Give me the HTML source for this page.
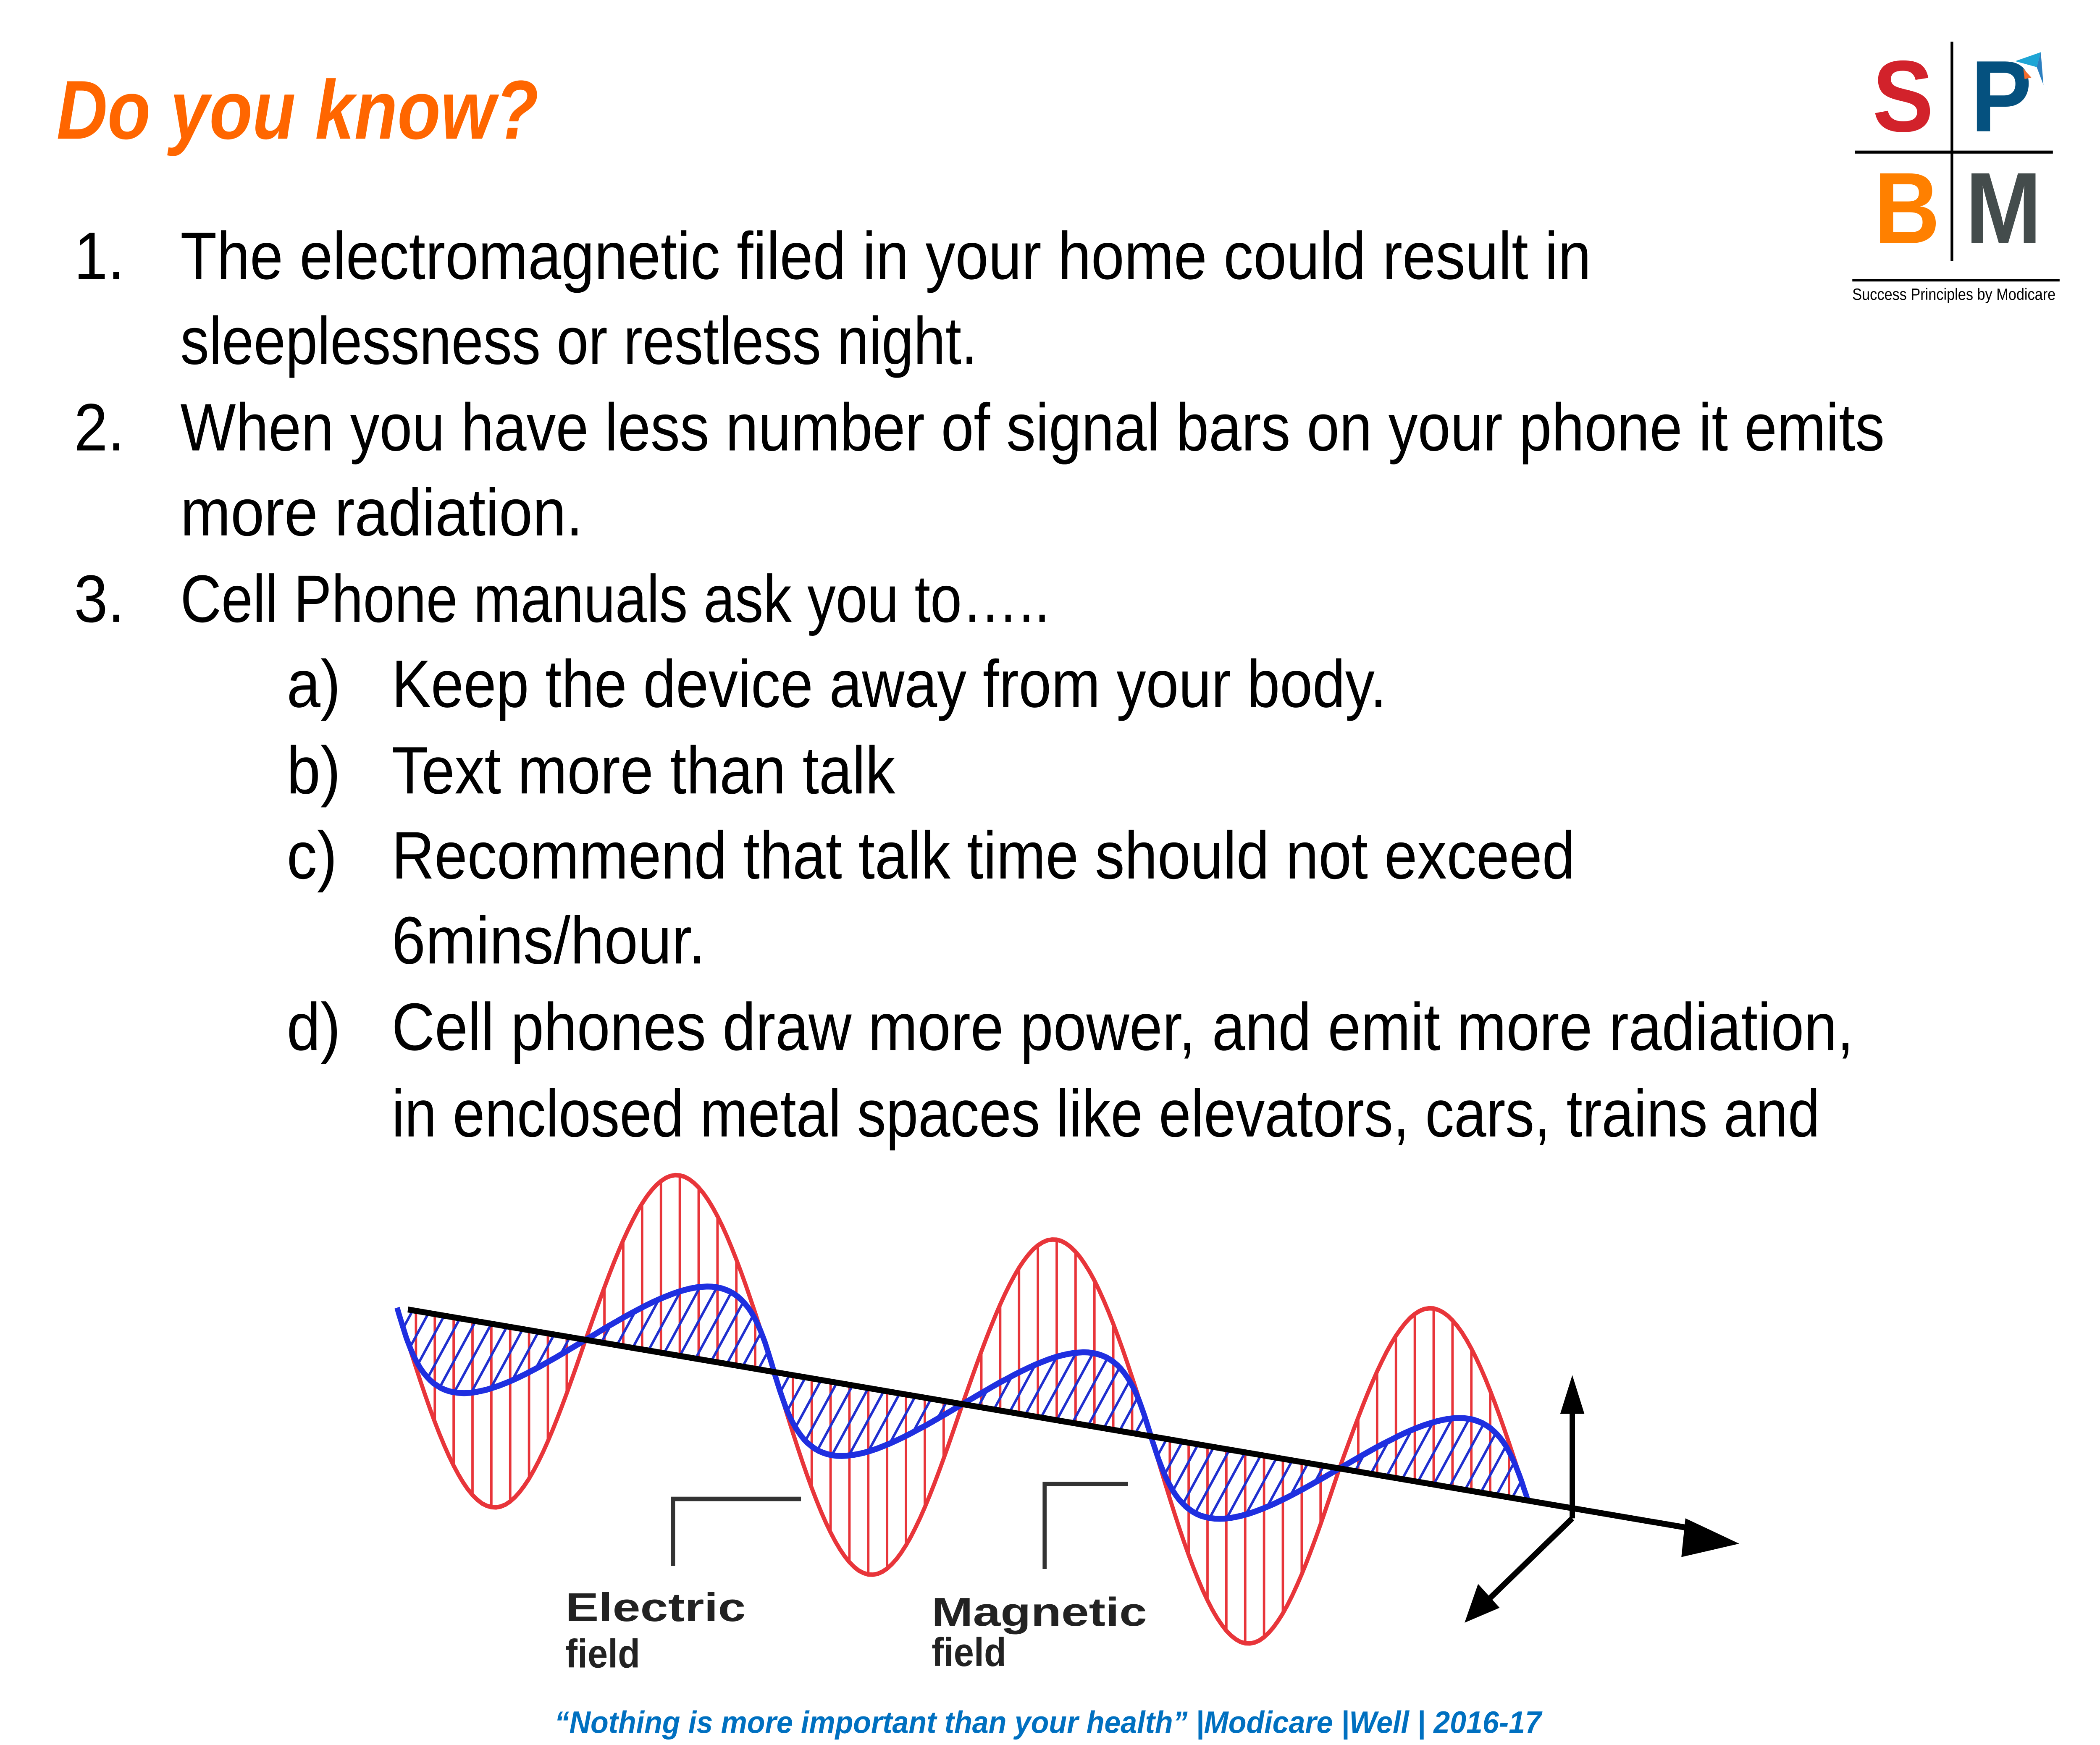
<!DOCTYPE html>
<html><head><meta charset="utf-8"><style>
html,body{margin:0;padding:0;background:#fff;overflow:hidden;width:100%;height:100%;}
svg{display:block;position:absolute;left:0;top:0;width:100vw;height:100vh;}
.b{font-family:"Liberation Sans",sans-serif;font-size:45px;fill:#000;}
</style></head><body>
<svg id="s" viewBox="0 0 1560 1170" preserveAspectRatio="none" xmlns="http://www.w3.org/2000/svg">
<rect width="1560" height="1170" fill="#fff"/>
<text x="42" y="93" style="font-family:'Liberation Sans',sans-serif;font-weight:bold;font-style:italic;font-size:56px;fill:#FF6600" textLength="358" lengthAdjust="spacingAndGlyphs">Do you know?</text>

<g>
<text x="1391" y="88" style="font-family:'Liberation Sans',sans-serif;font-weight:bold;font-size:68px;fill:#D2222B">S</text>
<text x="1464" y="88" style="font-family:'Liberation Sans',sans-serif;font-weight:bold;font-size:68px;fill:#05517F">P</text>
<text x="1392" y="163" style="font-family:'Liberation Sans',sans-serif;font-weight:bold;font-size:68px;fill:#FF8000">B</text>
<text x="1460" y="163" style="font-family:'Liberation Sans',sans-serif;font-weight:bold;font-size:68px;fill:#444C4C">M</text>
<line x1="1450" y1="28" x2="1450" y2="175" stroke="#000" stroke-width="2"/>
<line x1="1378" y1="102" x2="1525" y2="102" stroke="#000" stroke-width="2"/>
<line x1="1376" y1="188" x2="1530" y2="188" stroke="#000" stroke-width="1.5"/>
<polygon points="1497,41 1516,35 1513,45" fill="#1EA5D5"/>
<polygon points="1513,45 1516,35 1518,57" fill="#2C7FC0"/>
<polygon points="1503,46 1509,52 1504,53" fill="#F26B2B"/>
<text x="1376" y="201" style="font-family:'Liberation Sans',sans-serif;font-size:11px;fill:#000" textLength="151" lengthAdjust="spacingAndGlyphs">Success Principles by Modicare</text>
</g>

<g>
<text class="b" x="55" y="187">1.</text>
<text class="b" x="134" y="187" textLength="1048" lengthAdjust="spacingAndGlyphs">The electromagnetic filed in your home could result in</text>
<text class="b" x="134" y="244" textLength="592" lengthAdjust="spacingAndGlyphs">sleeplessness or restless night.</text>
<text class="b" x="55" y="302">2.</text>
<text class="b" x="134" y="302" textLength="1266" lengthAdjust="spacingAndGlyphs">When you have less number of signal bars on your phone it emits</text>
<text class="b" x="134" y="359" textLength="299" lengthAdjust="spacingAndGlyphs">more radiation.</text>
<text class="b" x="55" y="417">3.</text>
<text class="b" x="134" y="417" textLength="646" lengthAdjust="spacingAndGlyphs">Cell Phone manuals ask you to…..</text>
<text class="b" x="213" y="474">a)</text>
<text class="b" x="291" y="474" textLength="739" lengthAdjust="spacingAndGlyphs">Keep the device away from your body.</text>
<text class="b" x="213" y="532">b)</text>
<text class="b" x="291" y="532" textLength="374" lengthAdjust="spacingAndGlyphs">Text more than talk</text>
<text class="b" x="213" y="589">c)</text>
<text class="b" x="291" y="589" textLength="879" lengthAdjust="spacingAndGlyphs">Recommend that talk time should not exceed</text>
<text class="b" x="291" y="646" textLength="233" lengthAdjust="spacingAndGlyphs">6mins/hour.</text>
<text class="b" x="213" y="704">d)</text>
<text class="b" x="291" y="704" textLength="1086" lengthAdjust="spacingAndGlyphs">Cell phones draw more power, and emit more radiation,</text>
<text class="b" x="291" y="762" textLength="1061" lengthAdjust="spacingAndGlyphs">in enclosed metal spaces like elevators, cars, trains and</text>
</g>

<g id="wave"></g>

<g>
<polyline points="500,1050 500,1005 595,1005" fill="none" stroke="#333" stroke-width="3"/>
<polyline points="776,1052 776,995 838,995" fill="none" stroke="#333" stroke-width="3"/>
<text x="420" y="1087" style="font-family:'Liberation Sans',sans-serif;font-weight:bold;font-size:27px;fill:#222" textLength="134" lengthAdjust="spacingAndGlyphs">Electric</text>
<text x="420" y="1118" style="font-family:'Liberation Sans',sans-serif;font-weight:bold;font-size:27px;fill:#222">field</text>
<text x="692" y="1090" style="font-family:'Liberation Sans',sans-serif;font-weight:bold;font-size:27px;fill:#222" textLength="160" lengthAdjust="spacingAndGlyphs">Magnetic</text>
<text x="692" y="1117" style="font-family:'Liberation Sans',sans-serif;font-weight:bold;font-size:27px;fill:#222">field</text>
</g>

<text x="412" y="1162" style="font-family:'Liberation Sans',sans-serif;font-weight:bold;font-style:italic;font-size:21px;fill:#0070C0" textLength="733" lengthAdjust="spacingAndGlyphs">“Nothing is more important than your health” |Modicare |Well | 2016-17</text>
</svg>
<script>
// half-wave lobes: start x of each lobe, sign, red amplitude, blue amplitude
const lobeStarts = [295, 435, 575, 715, 855, 995];
const lobeSigns = [-1, 1, -1, 1, -1, 1];
const redAmps = [123, 121, 125, 121, 128, 118];
const blueAmps = [46, 46, 45, 45, 44, 44];
const halfPeriod = 140;
const NS = 'http://www.w3.org/2000/svg';
const g = document.getElementById('wave');
function axisY(x){ return 878 + (x - 303) * 0.154; }
const zx = 0.6, zy = -1;
function mk(tag, attrs){ const e = document.createElementNS(NS, tag); for (const k in attrs) e.setAttribute(k, attrs[k]); return e; }
let redD = '', blueD = '';
const redH = mk('g', {stroke:'#E8353A','stroke-width':1.8});


const blueH = mk('g', {stroke:'#1F2FCF','stroke-width':1.8});


lobeStarts.forEach((x0, i) => {
  const s = lobeSigns[i], A = redAmps[i], B = blueAmps[i];
  for (let k = 0; k <= 40; k++) {
    const x = x0 + halfPeriod * k / 40;
    const v = s * Math.sin(Math.PI * k / 40);
    const ay = axisY(x);
    redD += (redD ? 'L' : 'M') + x.toFixed(1) + ',' + (ay - A * v).toFixed(1);
    blueD += (blueD ? 'L' : 'M') + (x + B * v * zx).toFixed(1) + ',' + (ay + B * v * zy).toFixed(1);
  }
  for (let k = 1; k < 10; k++) {
    const x = x0 + halfPeriod * k / 10;
    const v = s * Math.sin(Math.PI * k / 10);
    const ay = axisY(x);
    redH.appendChild(mk('line', {x1:x, y1:ay, x2:x, y2:ay - A * v}));
  }
  for (let k = 1; k < 12; k++) {
    const x = x0 + halfPeriod * k / 12;
    const v = s * Math.sin(Math.PI * k / 12);
    const ay = axisY(x);
    blueH.appendChild(mk('line', {x1:x, y1:ay, x2:x + B * v * zx, y2:ay + B * v * zy}));
  }
});
g.appendChild(redH);
const red = mk('path', {d:redD, fill:'none', stroke:'#E8353A', 'stroke-width':3});


g.appendChild(red);
g.appendChild(blueH);
const blue = mk('path', {d:blueD, fill:'none', stroke:'#1F2FE0', 'stroke-width':4});


g.appendChild(blue);
const ax = mk('line', {x1:303, y1:878, x2:1262, y2:axisY(1262), stroke:'#000', 'stroke-width':4});


g.appendChild(ax);
const ah = mk('polygon', {points:'1292,1035 1252,1018 1249,1044', fill:'#000'});


g.appendChild(ah);
const vy = mk('line', {x1:1168, y1:1018, x2:1168, y2:945, stroke:'#000', 'stroke-width':4});


g.appendChild(vy);
const vh = mk('polygon', {points:'1168,922 1159,948 1177,948', fill:'#000'});


g.appendChild(vh);
const dz = mk('line', {x1:1168, y1:1018, x2:1104, y2:1074, stroke:'#000', 'stroke-width':4});


g.appendChild(dz);
const dh = mk('polygon', {points:'1088,1088 1098,1062 1114,1078', fill:'#000'});


g.appendChild(dh);
</script>
</body></html>
